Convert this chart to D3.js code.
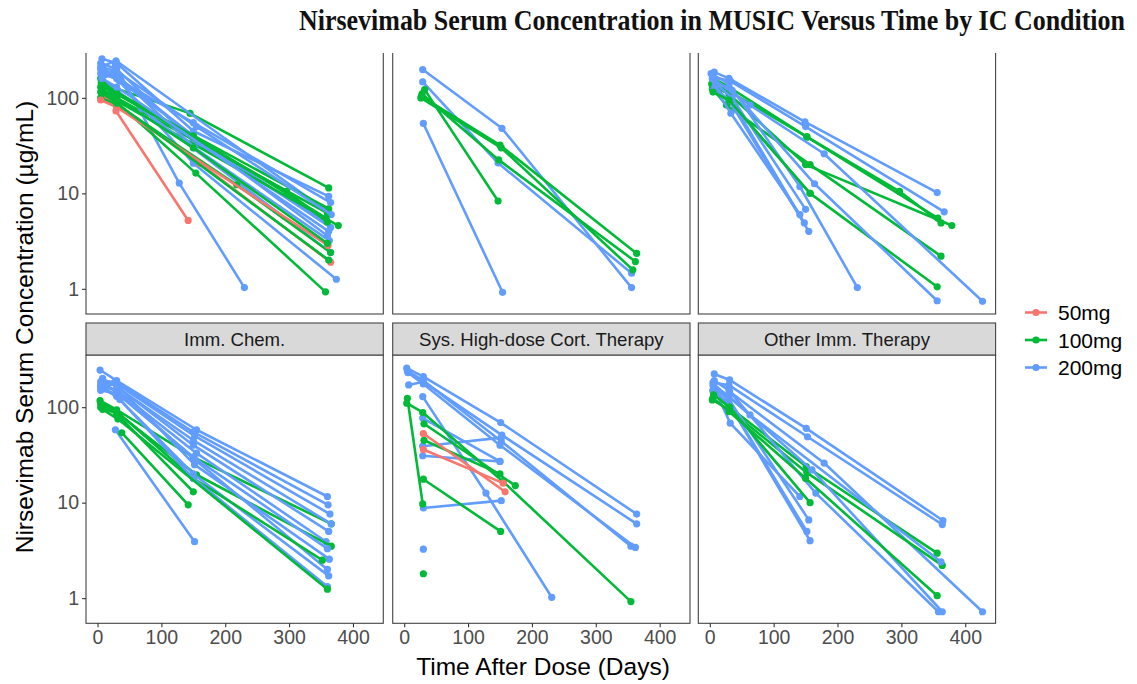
<!DOCTYPE html>
<html>
<head>
<meta charset="utf-8">
<script src="https://cdn.jsdelivr.net/npm/d3@7"></script>
<style>
  body { margin: 0; background: #fff; }
  text { font-family: "Liberation Sans", Arial, sans-serif; }
</style>
</head>
<body>
<svg id="chart" width="1137" height="684"></svg>
<script>
// ---- data -------------------------------------------------------------
const doses = ["50mg", "100mg", "200mg"];
const doseColors = ["#F8766D", "#00BA38", "#619CFF"];
const xTicks = [0, 100, 200, 300, 400];
const yTicks = [1, 10, 100];
const yTickLabels = ["1", "10", "100"];
const stripLabels = [null, null, null, "Imm. Chem.", "Sys. High-dose Cort. Therapy", "Other Imm. Therapy"];

// each subject: dose group, sampling days, serum concentration (µg/mL)
const panel1 = [
  { dose: "200mg", day: [7, 30, 150, 362], conc: [257, 230, 45, 9.3] },
  { dose: "100mg", day: [5, 30, 145, 362], conc: [160, 125, 68.8, 11.4] },
  { dose: "200mg", day: [8, 29, 361], conc: [215, 245, 6.4] },
  { dose: "100mg", day: [6, 30, 362], conc: [140, 110, 6.9] },
  { dose: "200mg", day: [5, 25, 150, 365], conc: [200, 180, 40, 4.4] },
  { dose: "200mg", day: [5, 30, 150, 360], conc: [230, 200, 35, 5] },
  { dose: "100mg", day: [8, 30, 360], conc: [120, 100, 6.2] },
  { dose: "200mg", day: [10, 35, 360], conc: [190, 150, 3.6] },
  { dose: "100mg", day: [5, 28, 377], conc: [130, 95, 4.6] },
  { dose: "200mg", day: [28, 128, 230], conc: [220, 12.8, 1.03] },
  { dose: "50mg", day: [29, 142], conc: [73, 5.2] },
  { dose: "200mg", day: [5, 30, 150, 374], conc: [180, 160, 20.7, 1.26] },
  { dose: "100mg", day: [10, 30, 154, 357], conc: [110, 90, 16.3, 0.93] },
  { dose: "50mg", day: [10, 30, 160, 365], conc: [100, 85, 20.7, 1.9] },
  { dose: "200mg", day: [8, 30, 365], conc: [150, 120, 2.4] },
  { dose: "200mg", day: [9, 32, 152, 363], conc: [190, 170, 30, 3.2] },
  { dose: "100mg", day: [5, 30, 218, 365], conc: [100, 85, 12.3, 2.4] },
  { dose: "50mg", day: [5, 30, 361], conc: [95, 80, 2.85] },
  { dose: "100mg", day: [7, 30, 296, 360], conc: [150, 110, 10.5, 5] },
  { dose: "200mg", day: [5, 30, 155, 366], conc: [210, 190, 50, 6] },
  { dose: "100mg", day: [5, 30, 362], conc: [115, 88, 2.0] },
  { dose: "200mg", day: [12, 33, 150, 365], conc: [175, 155, 55, 8] },
  { dose: "100mg", day: [6, 30, 150, 358], conc: [145, 115, 40, 5.5] },
  { dose: "200mg", day: [7, 30, 362], conc: [160, 130, 4] },
  { dose: "100mg", day: [9, 30, 150, 360], conc: [135, 100, 30, 3] }
];

const panel2 = [
  { dose: "200mg", day: [29, 153, 356], conc: [198, 48, 1.03] },
  { dose: "200mg", day: [29, 147, 356], conc: [147, 20.8, 1.46] },
  { dose: "200mg", day: [30, 154], conc: [54, 0.92] },
  { dose: "100mg", day: [27, 150, 364], conc: [104, 32, 2.35] },
  { dose: "100mg", day: [28, 148, 362], conc: [110, 22.4, 1.93] },
  { dose: "100mg", day: [32, 147], conc: [122, 8.3] },
  { dose: "100mg", day: [26, 152, 358], conc: [100, 30, 1.58] }
];

const panel3 = [
  { dose: "200mg", day: [7, 30, 149, 356], conc: [186, 160, 56, 10.2] },
  { dose: "100mg", day: [5, 30, 152, 357], conc: [160, 130, 39, 5.5] },
  { dose: "200mg", day: [5, 32, 150, 367], conc: [165, 150, 50, 6.4] },
  { dose: "100mg", day: [3, 28, 152, 297, 362], conc: [140, 120, 39, 10.5, 4.9] },
  { dose: "100mg", day: [6, 30, 150, 379], conc: [130, 110, 20, 4.6] },
  { dose: "100mg", day: [4, 26, 157, 362], conc: [125, 84, 20, 2.2] },
  { dose: "100mg", day: [7, 32, 157, 356], conc: [120, 90, 10, 1.05] },
  { dose: "200mg", day: [2, 30, 141, 231], conc: [180, 140, 11.8, 1.03] },
  { dose: "200mg", day: [4, 63, 179, 427], conc: [160, 84, 26, 0.74] },
  { dose: "200mg", day: [8, 35, 164, 356], conc: [150, 120, 12.6, 0.75] },
  { dose: "200mg", day: [10, 35, 150], conc: [140, 100, 6.8] },
  { dose: "200mg", day: [8, 40, 148], conc: [130, 80, 4.9] },
  { dose: "200mg", day: [6, 30, 155], conc: [120, 95, 4.0] },
  { dose: "200mg", day: [12, 33, 141], conc: [115, 69, 6.0] },
  { dose: "100mg", day: [5, 30, 157], conc: [115, 95, 10] }
];

const panel4 = [
  { dose: "200mg", day: [4, 30, 155, 360], conc: [245, 190, 58, 11.6] },
  { dose: "200mg", day: [5, 28, 150, 361], conc: [185, 185, 55, 9.5] },
  { dose: "200mg", day: [5, 30, 152, 364], conc: [164, 175, 50, 7.6] },
  { dose: "100mg", day: [4, 30, 150, 366], conc: [117, 94, 30, 6.0] },
  { dose: "200mg", day: [8, 32, 150, 366], conc: [200, 160, 45, 6.0] },
  { dose: "200mg", day: [7, 30, 150, 362], conc: [190, 165, 40, 5.0] },
  { dose: "200mg", day: [6, 30, 155, 358], conc: [175, 150, 33, 3.9] },
  { dose: "100mg", day: [5, 35, 155, 366], conc: [100, 83, 19.6, 3.5] },
  { dose: "200mg", day: [5, 30, 150, 360], conc: [150, 140, 30, 3.3] },
  { dose: "200mg", day: [10, 30, 152, 363], conc: [180, 170, 25, 2.56] },
  { dose: "100mg", day: [6, 30, 150], conc: [105, 85, 13] },
  { dose: "200mg", day: [5, 30, 150, 362], conc: [160, 130, 20, 1.71] },
  { dose: "200mg", day: [5, 33, 153, 360], conc: [170, 145, 28, 2.0] },
  { dose: "200mg", day: [28, 152], conc: [58, 3.9] },
  { dose: "100mg", day: [38, 142], conc: [54, 9.5] },
  { dose: "100mg", day: [5, 30, 150, 352], conc: [110, 90, 18, 2.5] },
  { dose: "200mg", day: [6, 35, 150, 360], conc: [170, 120, 18, 1.32] },
  { dose: "100mg", day: [8, 32, 360], conc: [95, 75, 1.24] }
];

const panel5 = [
  { dose: "200mg", day: [4, 30, 151, 364], conc: [256, 209, 69, 7.6] },
  { dose: "200mg", day: [7, 30, 153, 364], conc: [171, 185, 51, 6.0] },
  { dose: "200mg", day: [5, 30, 152, 355], conc: [240, 190, 44, 3.5] },
  { dose: "200mg", day: [6, 30, 150, 362], conc: [230, 175, 40, 3.4] },
  { dose: "200mg", day: [29, 128, 231], conc: [129, 12.6, 1.02] },
  { dose: "200mg", day: [29, 152], conc: [39, 48] },
  { dose: "200mg", day: [29, 150], conc: [31, 27] },
  { dose: "200mg", day: [29, 150], conc: [77, 27] },
  { dose: "200mg", day: [30, 152], conc: [8.8, 10.5] },
  { dose: "200mg", day: [30], conc: [3.26] },
  { dose: "100mg", day: [5, 29], conc: [124, 9.7] },
  { dose: "100mg", day: [4, 29, 155, 355], conc: [110, 88, 16.6, 0.92] },
  { dose: "100mg", day: [30, 151], conc: [17.6, 5.0] },
  { dose: "100mg", day: [31, 174], conc: [67, 15.1] },
  { dose: "100mg", day: [31, 150], conc: [45, 20] },
  { dose: "100mg", day: [30], conc: [1.8] },
  { dose: "50mg", day: [30, 158], conc: [53, 13] },
  { dose: "50mg", day: [30, 155], conc: [36, 16] }
];

const panel6 = [
  { dose: "200mg", day: [7, 31, 151, 365], conc: [223, 193, 60, 6.5] },
  { dose: "200mg", day: [5, 30, 153, 364], conc: [181, 170, 49, 5.9] },
  { dose: "200mg", day: [31, 179, 427], conc: [146, 26, 0.72] },
  { dose: "100mg", day: [5, 30, 151, 356], conc: [149, 101, 23.9, 2.96] },
  { dose: "100mg", day: [4, 30, 152, 364], conc: [119, 95, 20.6, 2.2] },
  { dose: "200mg", day: [7, 30, 166, 358], conc: [190, 150, 12.6, 0.72] },
  { dose: "200mg", day: [5, 32, 141], conc: [170, 68, 11.6] },
  { dose: "200mg", day: [6, 30, 155], conc: [160, 120, 6.6] },
  { dose: "200mg", day: [8, 33, 157], conc: [140, 100, 4.0] },
  { dose: "200mg", day: [5, 30, 152], conc: [150, 110, 5.0] },
  { dose: "200mg", day: [6, 63, 362], conc: [175, 83, 2.4] },
  { dose: "200mg", day: [6, 30, 160, 364], conc: [165, 130, 22, 0.72] },
  { dose: "100mg", day: [6, 31, 157], conc: [135, 100, 10] },
  { dose: "100mg", day: [5, 30, 150, 356], conc: [125, 90, 18, 1.06] }
];

const panelData = [panel1, panel2, panel3, panel4, panel5, panel6];

// ---- layout -----------------------------------------------------------
const svg = d3.select("#chart");
const colX = [86, 392.7, 698.3];
const rowY = [45.7, 355];
const pw = 297.3, ph = 268.3, stripH = 32;

const x = d3.scaleLinear().domain([-18, 447.5]).range([0, pw]);
const y = d3.scaleLog().domain([0.545, 352]).range([ph, 0]);
const color = d3.scaleOrdinal().domain(doses).range(doseColors);

const line = d3.line().x(d => x(d[0])).y(d => y(d[1]));

panelData.forEach((subjects, i) => {
  const col = i % 3, row = Math.floor(i / 3);
  const g = svg.append("g").attr("transform", `translate(${colX[col]},${rowY[row]})`);

  g.append("rect").attr("width", pw).attr("height", ph).attr("fill", "#fff");

  subjects.forEach(s => {
    const pts = s.day.map((d, k) => [d, s.conc[k]]);
    if (pts.length > 1) {
      g.append("path").datum(pts)
        .attr("d", line)
        .attr("fill", "none")
        .attr("stroke", color(s.dose))
        .attr("stroke-width", 2.6)
        .attr("stroke-linejoin", "round");
    }
    g.selectAll(null).data(pts).enter().append("circle")
      .attr("cx", d => x(d[0])).attr("cy", d => y(d[1]))
      .attr("r", 3.6).attr("fill", color(s.dose));
  });

  g.append("rect").attr("width", pw).attr("height", ph)
    .attr("fill", "none").attr("stroke", "#444").attr("stroke-width", 1.1);

  if (stripLabels[i]) {
    const sg = svg.append("g").attr("transform", `translate(${colX[col]},${rowY[row] - stripH})`);
    sg.append("rect").attr("width", pw).attr("height", stripH)
      .attr("fill", "#D9D9D9").attr("stroke", "#444").attr("stroke-width", 1.1);
    sg.append("text").attr("x", pw / 2).attr("y", stripH / 2 + 6.5)
      .attr("text-anchor", "middle").attr("font-size", 18.6).attr("fill", "#1A1A1A")
      .text(stripLabels[i]);
  }

  if (col === 0) {
    const ax = g.append("g").call(d3.axisLeft(y).tickValues(yTicks)
      .tickFormat((d, k) => yTickLabels[k]).tickSize(4).tickPadding(3));
    ax.select(".domain").remove();
    ax.selectAll("line").attr("stroke", "#333").attr("stroke-width", 1.1);
    ax.selectAll("text").attr("font-size", 19.5).attr("fill", "#4D4D4D")
      .attr("font-family", "Liberation Sans, Arial, sans-serif");
  }
  if (row === 1) {
    const ax = g.append("g").attr("transform", `translate(0,${ph})`)
      .call(d3.axisBottom(x).tickValues(xTicks).tickSize(4).tickPadding(3));
    ax.select(".domain").remove();
    ax.selectAll("line").attr("stroke", "#333").attr("stroke-width", 1.1);
    ax.selectAll("text").attr("font-size", 19.5).attr("fill", "#4D4D4D")
      .attr("font-family", "Liberation Sans, Arial, sans-serif");
  }
});

// axis titles
svg.append("text")
  .attr("transform", `translate(33,327) rotate(-90)`)
  .attr("text-anchor", "middle").attr("font-size", 24.5).attr("fill", "#000")
  .text("Nirsevimab Serum Concentration (µg/mL)");
svg.append("text")
  .attr("x", 543).attr("y", 675)
  .attr("text-anchor", "middle").attr("font-size", 24.5).attr("fill", "#000")
  .text("Time After Dose (Days)");

// legend
const lg = svg.append("g");
doses.forEach((d, k) => {
  const ly = 312.5 + k * 27.5;
  lg.append("line").attr("x1", 1025).attr("x2", 1047).attr("y1", ly).attr("y2", ly)
    .attr("stroke", doseColors[k]).attr("stroke-width", 2.6);
  lg.append("circle").attr("cx", 1036).attr("cy", ly).attr("r", 3.6).attr("fill", doseColors[k]);
  lg.append("text").attr("x", 1058).attr("y", ly + 7.5)
    .attr("font-size", 21).attr("fill", "#000").text(d);
});

// title band (condensed serif heading, stretched vertically)
svg.append("rect").attr("x", 0).attr("y", 0).attr("width", 1137).attr("height", 53).attr("fill", "#fff");
svg.append("text")
  .attr("transform", "translate(299,30) scale(1,1.18)")
  .attr("x", 0).attr("y", 0)
  .attr("textLength", 826).attr("lengthAdjust", "spacingAndGlyphs")
  .style("font-family", "'Liberation Serif', 'Times New Roman', serif")
  .attr("font-weight", "bold").attr("font-size", 24.5).attr("fill", "#111")
  .text("Nirsevimab Serum Concentration in MUSIC Versus Time by IC Condition");
</script>
</body>
</html>
